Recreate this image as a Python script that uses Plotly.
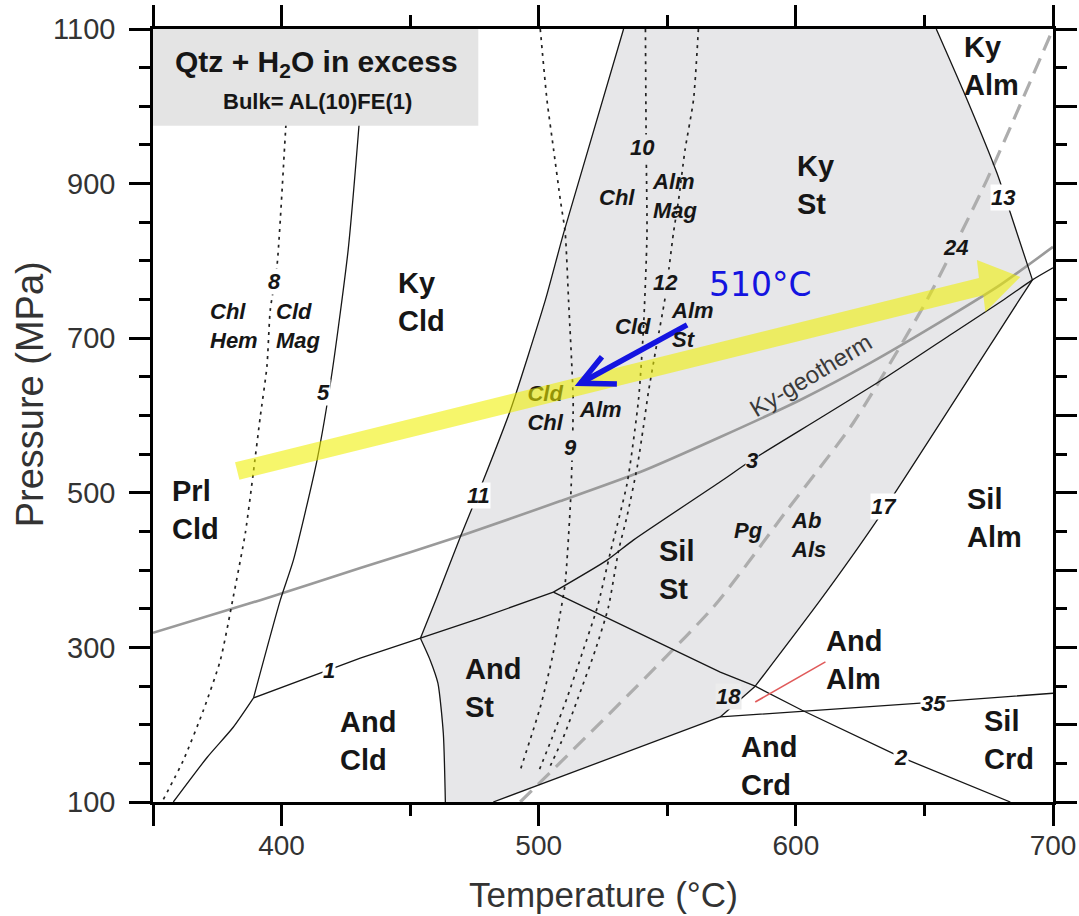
import plotly.graph_objects as go

FONT = "Liberation Sans, Arial, sans-serif"
INK = "#161616"
GRAY_FILL = "#e7e7e9"

# ---------------- reaction curves: temperature (°C), pressure (MPa) ----------------
l5a_T = [432.9, 430.6, 425.9, 419.6, 413.8, 404.6, 399.5, 389.1]
l5a_P = [1100, 995.5, 814.3, 655.0, 542.4, 412.9, 361.1, 234.7]
l5b_T = [389.1, 381.2, 371.1, 357.9]
l5b_P = [234.7, 196.7, 157.9, 100]
l1_T = [389.1, 430.6, 454.0, 477.3, 505.7]
l1_P = [234.7, 286.0, 311.9, 337.8, 371.5]
l11_T = [533.0, 509.7, 502.6, 489.0, 478.5, 469.5, 460.4, 454.0]
l11_P = [1100, 836.3, 749.5, 607.1, 516.5, 442.7, 365.0, 311.9]
ast_T = [454.0, 457.8, 460.8, 462.9, 463.7]
ast_P = [311.9, 283.5, 253.7, 188.9, 100]
low_T = [482.3, 570.6]
low_P = [100, 210.0]
l18_T = [570.6, 584.2]
l18_P = [210.0, 249.8]
l35_T = [570.6, 648.4, 700]
l35_P = [210.0, 227.8, 240.7]
l2_T = [505.7, 553.8, 570.6, 584.2, 602.4, 640.6, 683.4]
l2_P = [371.5, 294.2, 268.0, 249.8, 218.7, 158.3, 100]
l3_T = [505.7, 526.6, 536.8, 570.6, 582.9, 609.5, 635.4, 661.2, 680.7, 692.0, 700]
l3_P = [371.5, 412.9, 438.8, 514.3, 542.4, 596.8, 650.2, 706.8, 749.5, 775.4, 791.0]
l17_T = [584.2, 609.5, 631.6, 686.9, 692.0]
l17_P = [249.8, 361.1, 464.7, 749.5, 775.4]
l13_T = [654.6, 666.6, 678.2, 683.4, 692.0]
l13_P = [1100, 1008.5, 913.6, 862.2, 775.4]

geo_T = [350, 391.7, 430.6, 469.5, 508.4, 539.5, 570.6, 601.7, 629.0, 656.2, 679.5, 700]
geo_P = [318.8, 361.1, 402.6, 444.0, 489.3, 526.9, 572.2, 620.1, 668.0, 721.0, 768.9, 818.1]
l24_T = [492.8, 567.9, 596.6, 622.3, 651.0, 674.3, 700]
l24_P = [100, 352.1, 477.7, 590.3, 749.5, 904.9, 1100]

d8_T = [403.9, 401.5, 398.2, 395.6, 394.3, 391.7, 389.0, 385.9, 381.2, 376.2, 369.6, 361.8, 353.5]
d8_P = [1100, 965.7, 792.7, 736.6, 663.2, 598.1, 525.6, 447.9, 365.0, 283.5, 218.7, 154.0, 100]
d9_T = [500.6, 503.2, 505.8, 508.4, 510.3, 511.6, 513.4, 513.1, 512.4, 510.3, 508.4, 505.3, 500.6, 492.8]
d9_P = [1100, 1008.5, 943.7, 879.0, 836.3, 749.5, 620.1, 559.2, 490.6, 383.1, 344.3, 287.3, 222.6, 141.0]
d10_T = [541.5, 541.8, 542.1, 540.7, 538.8, 534.4, 527.8, 522.8, 517.3, 511.1, 505.3, 499.8]
d10_P = [1100, 943.7, 833.7, 710.7, 620.1, 512.6, 422.0, 352.1, 296.4, 235.5, 183.8, 138.0]
d12_T = [562.1, 560.2, 556.9, 554.4, 552.4, 549.2, 545.3, 542.6, 540.7, 538.3, 534.3, 531.1, 527.1, 522.0, 515.4, 509.6, 503.7]
d12_P = [1100, 1008.5, 943.7, 879.0, 836.3, 753.4, 680.9, 629.1, 585.1, 533.3, 469.0, 425.9, 352.1, 296.4, 235.5, 183.8, 141.0]

red_T = [584.2, 611.5]
red_P = [229.4, 281.2]

# yellow P-T path arrow (outline) and blue arrow
path_T = [381.9, 671.2, 670.4, 687.3, 673.7, 672.9, 383.6]
path_P = [539.4, 778.0, 801.3, 779.3, 734.0, 755.5, 516.9]
blue_shaft_T = [557.7, 516.2]
blue_shaft_P = [717.2, 641.7]
blue_head_T = [524.6, 516.2, 530.4]
blue_head_P = [676.1, 641.7, 640.8]

# labels
field_labels = [
    ("Ky<br>Cld", 444.6, 747.0), ("Prl<br>Cld", 356.7, 477.7), ("And<br>Cld", 422.1, 179.3),
    ("And<br>St", 470.7, 247.2), ("Sil<br>St", 546.1, 400.0), ("Ky<br>St", 599.7, 898.4),
    ("Ky<br>Alm", 664.7, 1052.5), ("Sil<br>Alm", 665.9, 467.3), ("And<br>Alm", 611.1, 283.5),
    ("And<br>Crd", 578.0, 146.0), ("Sil<br>Crd", 672.5, 179.9),
]
W, G, L = "white", GRAY_FILL, "#ececec"
small_labels = [
    ("Chl<br>Hem", 371.9, 715.9, "left", None), ("Cld<br>Mag", 397.6, 715.9, "left", None),
    ("8", 397.2, 772.8, "center", W), ("5", 416.2, 630.4, "center", W),
    ("10", 540.3, 946.3, "center", G), ("Chl", 530.6, 881.6, "center", None),
    ("Alm<br>Mag", 543.6, 884.2, "left", None), ("12", 549.2, 771.5, "center", G),
    ("Alm<br>St", 551.2, 717.2, "left", None), ("Cld", 536.8, 714.6, "center", None),
    ("Alm", 524.0, 608.4, "center", None), ("9", 512.3, 559.2, "center", G),
    ("11", 476.5, 497.1, "center", W), ("3", 583.0, 542.4, "center", G),
    ("Pg", 581.5, 451.8, "center", None), ("Ab<br>Als", 597.8, 445.9, "left", None),
    ("17", 634.3, 482.8, "center", W), ("13", 680.7, 881.6, "center", W),
    ("24", 662.0, 816.9, "center", G), ("18", 573.8, 236.8, "center", L),
    ("35", 653.5, 227.8, "center", W), ("2", 641.0, 157.8, "center", W),
    ("1", 418.6, 270.5, "center", W),
]
under_path_label = ("Cld<br>Chl", 495.6, 607.1)

fig = go.Figure()

def add_line(T, P, color=INK, width=1.3, dash="solid", shape="linear"):
    fig.add_trace(go.Scatter(x=T, y=P, mode="lines", hoverinfo="skip", showlegend=False,
                             line=dict(color=color, width=width, dash=dash, shape=shape, smoothing=0.6)))

# staurolite field fill
reg_T = l11_T + ast_T[1:] + low_T + l18_T[1:] + l17_T[1:] + l13_T[::-1][1:]
reg_P = l11_P + ast_P[1:] + low_P + l18_P[1:] + l17_P[1:] + l13_P[::-1][1:]
fig.add_trace(go.Scatter(x=reg_T, y=reg_P, mode="lines", fill="toself", fillcolor=GRAY_FILL,
                         line=dict(width=0), hoverinfo="skip", showlegend=False))

add_line(geo_T, geo_P, color="#9a9a9a", width=2.6, shape="spline")
add_line(l24_T, l24_P, color="#adadad", width=3.2, dash="16px,9px", shape="spline")
for T, P in [(d8_T, d8_P), (d9_T, d9_P), (d10_T, d10_P), (d12_T, d12_P)]:
    add_line(T, P, color="#222", width=1.7, dash="3px,5px", shape="spline")
for T, P in [(l5a_T, l5a_P), (l5b_T, l5b_P), (l11_T, l11_P), (ast_T, ast_P), (l3_T, l3_P),
             (l17_T, l17_P), (l13_T, l13_P)]:
    add_line(T, P, shape="spline")
for T, P in [(l1_T, l1_P), (low_T, low_P), (l18_T, l18_P), (l35_T, l35_P), (l2_T, l2_P)]:
    add_line(T, P)
add_line(red_T, red_P, color="#e05a5a", width=1.6)

fig.add_trace(go.Scatter(x=[under_path_label[1]], y=[under_path_label[2]], mode="text",
                         text=["<b><i>" + under_path_label[0] + "</i></b>"], textposition="middle right",
                         textfont=dict(family=FONT, size=22, color=INK), hoverinfo="skip", showlegend=False))
# dummy trace to activate top/right axes
fig.add_trace(go.Scatter(x=[None], y=[None], xaxis="x2", yaxis="y2", showlegend=False, hoverinfo="skip"))

# shapes: title box, yellow path, blue arrow
shapes = [dict(type="rect", xref="x", yref="y", x0=350, x1=476.5, y0=975, y1=1100,
               fillcolor="#e4e4e4", line=dict(width=0), layer="above")]
pth = "M " + " L ".join(f"{t},{p}" for t, p in zip(path_T, path_P)) + " Z"
shapes.append(dict(type="path", path=pth, xref="x", yref="y", fillcolor="rgba(240,240,0,0.58)",
                   line=dict(width=0), layer="above"))
shaft = "M " + " L ".join(f"{t},{p}" for t, p in zip(blue_shaft_T, blue_shaft_P))
head = "M " + " L ".join(f"{t},{p}" for t, p in zip(blue_head_T, blue_head_P))
for pth2 in (shaft, head):
    shapes.append(dict(type="path", path=pth2, xref="x", yref="y", line=dict(color="#1414e0", width=5.5),
                       layer="above"))

ann = []
ann.append(dict(x=413.5, y=1055, text="<b>Qtz + H<sub>2</sub>O in excess</b>", showarrow=False,
                font=dict(family=FONT, size=30, color=INK)))
ann.append(dict(x=414, y=1006, text="<b>Bulk= AL(10)FE(1)</b>", showarrow=False,
                font=dict(family=FONT, size=22, color=INK)))
for txt, t, p in field_labels:
    ann.append(dict(x=t, y=p, text="<b>" + txt + "</b>", showarrow=False, xanchor="left", align="left",
                    font=dict(family=FONT, size=29, color=INK)))
for txt, t, p, xa, bg in small_labels:
    d = dict(x=t, y=p, text="<b><i>" + txt + "</i></b>", showarrow=False, xanchor=xa, align="left",
             font=dict(family=FONT, size=22, color=INK), borderpad=0)
    if bg:
        d["bgcolor"] = bg
    ann.append(d)
ann.append(dict(x=605.5, y=652, text="Ky-geotherm", textangle=-31, showarrow=False,
                font=dict(family=FONT, size=24, color="#3a3a3a")))
ann.append(dict(x=586.2, y=769, text="510°C", showarrow=False,
                font=dict(family="DejaVu Sans", size=33, color="#1414e0")))
# axis titles
ann.append(dict(xref="paper", yref="paper", x=0.5, y=-0.12, xanchor="center", yanchor="middle",
                text="Temperature (°C)", showarrow=False, font=dict(family=FONT, size=35, color="#333")))
ann.append(dict(xref="paper", yref="paper", x=-0.137, y=0.527, xanchor="center", yanchor="middle",
                text="Pressure (MPa)", textangle=-90, showarrow=False,
                font=dict(family=FONT, size=38, color="#333")))

axis_common = dict(showline=True, linecolor="black", linewidth=2.5, ticks="outside", tickwidth=2.5,
                   tickcolor="black", ticklen=21, showgrid=False, zeroline=False, automargin=False)
x_major = [350, 400, 500, 600, 700]
x_minor = [450, 550, 650]
y_major = list(range(100, 1101, 200))
y_minor = [v for v in range(150, 1100, 50) if (v - 100) % 200 != 0]
y2_major = list(range(100, 1101, 100))
y2_minor = list(range(150, 1100, 100))
minor_style = dict(ticks="outside", ticklen=11, tickwidth=2.5, tickcolor="black")

fig.update_layout(
    width=1079, height=916, margin=dict(l=153, r=26, t=29, b=114, autoexpand=False),
    paper_bgcolor="white", plot_bgcolor="white", showlegend=False,
    shapes=shapes, annotations=ann,
    xaxis=dict(range=[350, 700], tickvals=x_major, ticktext=["", "400", "500", "600", "700"],
               minor=dict(tickvals=x_minor, **minor_style), ticklabelstandoff=-4,
               tickfont=dict(family=FONT, size=28, color="#333"), **axis_common),
    yaxis=dict(range=[100, 1100], tickvals=y_major, ticktext=[str(v) for v in y_major],
               minor=dict(tickvals=y_minor, **minor_style), ticklabelstandoff=8,
               tickfont=dict(family=FONT, size=29, color="#333"), **axis_common),
    xaxis2=dict(range=[350, 700], overlaying="x", side="top", anchor="y", tickvals=x_major,
                showticklabels=False, minor=dict(tickvals=x_minor, **minor_style), **axis_common),
    yaxis2=dict(range=[100, 1100], overlaying="y", side="right", anchor="x", tickvals=y2_major,
                showticklabels=False, minor=dict(tickvals=y2_minor, **minor_style), **axis_common),
)

fig.write_html("out.html")
